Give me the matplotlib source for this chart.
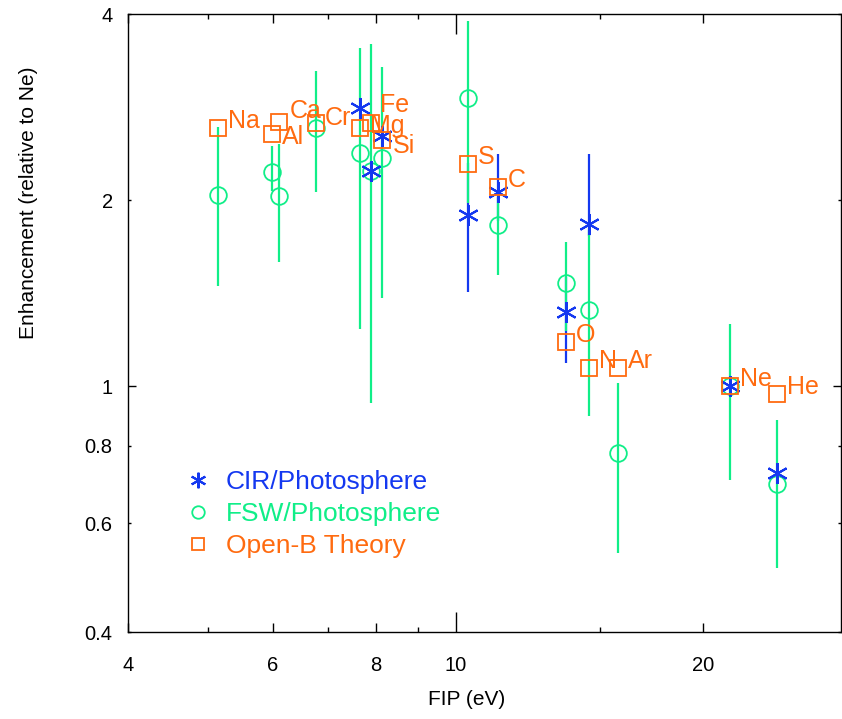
import matplotlib
matplotlib.use("Agg")
import matplotlib.pyplot as plt
import numpy as np
from matplotlib.ticker import FixedLocator, NullFormatter, NullLocator

plt.rcParams['font.family'] = ['Liberation Sans', 'DejaVu Sans']

# first ionization potentials (eV)
fip = {'Na': 5.14, 'Al': 5.99, 'Ca': 6.11, 'Cr': 6.77, 'Mg': 7.65, 'Fe': 7.90,
       'Si': 8.15, 'S': 10.36, 'C': 11.26, 'O': 13.62, 'N': 14.53, 'Ar': 15.76,
       'Ne': 21.56, 'He': 24.59}

# CIR / photosphere
cir_el = ['Mg', 'Fe', 'Si', 'S', 'C', 'O', 'N', 'Ne', 'He']
cir_val = [2.82, 2.23, 2.54, 1.89, 2.06, 1.32, 1.83, 1.0, 0.722]
cir_lo = [np.nan, np.nan, np.nan, 1.42, 1.85, 1.09, 1.75, np.nan, np.nan]
cir_hi = [np.nan, np.nan, np.nan, 2.30, 2.37, 1.50, 2.37, np.nan, np.nan]

# FSW / photosphere
fsw_el = ['Na', 'Al', 'Ca', 'Cr', 'Mg', 'Fe', 'Si', 'S', 'C', 'O', 'N', 'Ar', 'Ne', 'He']
fsw_val = [2.04, 2.22, 2.03, 2.62, 2.38, 2.23, 2.34, 2.93, 1.82, 1.47, 1.33, 0.778, 1.0, 0.695]
fsw_lo = [1.45, 2.07, 1.59, 2.06, 1.236, 0.938, 1.39, 1.98, 1.51, 1.23, 0.893, 0.537, 0.706, 0.508]
fsw_hi = [2.63, 2.45, 2.46, 3.23, 3.52, 3.58, 3.28, 3.90, 2.02, 1.71, 1.79, 1.01, 1.26, 0.88]

# Open-B theory
th_el = ['Na', 'Al', 'Ca', 'Cr', 'Mg', 'Fe', 'Si', 'S', 'C', 'O', 'N', 'Ar', 'Ne', 'He']
th_val = [2.62, 2.56, 2.67, 2.66, 2.62, 2.66, 2.50, 2.29, 2.10, 1.18, 1.07, 1.07, 1.0, 0.97]

blue = '#1438F0'
green = '#10EE88'
orange = '#FF6B10'

# label offsets in points (x, baseline y)
lab_off = {'Al': (7.2, -7.2), 'Ca': (7.2, 2.9), 'Cr': (6.5, -1.4), 'Mg': (7.2, -3.6),
           'Fe': (6.5, 8.6), 'Si': (7.2, -9.4)}

fig = plt.figure(figsize=(8.42, 7.19), dpi=100)
ax = fig.add_axes([128 / 842, 1 - 632 / 719, 713 / 842, 618 / 719])
ax.set_xscale('log')
ax.set_yscale('log')

cx = [fip[e] for e in cir_el]
fx = [fip[e] for e in fsw_el]
tx = [fip[e] for e in th_el]

ax.vlines(cx, cir_lo, cir_hi, color=blue, lw=1.6, zorder=1)
ax.vlines(fx, fsw_lo, fsw_hi, color=green, lw=1.6, zorder=2)

ax.plot(fx, fsw_val, ls='none', marker='o', ms=12, mfc='none', mec=green, mew=1.3,
        zorder=3, label='FSW/Photosphere')
ax.plot(cx, cir_val, ls='none', marker=(6, 2, 0), ms=15, mfc='none', mec=blue, mew=1.5,
        zorder=4, label='CIR/Photosphere')
ax.plot(tx, th_val, ls='none', marker='s', ms=12, mfc='none', mec=orange, mew=1.3,
        zorder=5, label='Open-B Theory')

for e, x, y in zip(th_el, tx, th_val):
    dx, dy = lab_off.get(e, (7.2, 0))
    ax.annotate(e, (x, y), xytext=(dx, dy), textcoords='offset points',
                ha='left', va='baseline', color=orange, fontsize=18, zorder=6)

ax.set_xlim(4, 29.4)
ax.set_ylim(0.4, 4)

ax.xaxis.set_major_locator(FixedLocator([4, 6, 8, 10, 20]))
ax.set_xticklabels(['4', '6', '8', '10', '20'])
ax.xaxis.set_minor_locator(FixedLocator([5, 7, 9, 15]))
ax.xaxis.set_minor_formatter(NullFormatter())
ax.yaxis.set_major_locator(FixedLocator([0.4, 0.6, 0.8, 1, 2, 4]))
ax.set_yticklabels(['0.4', '0.6', '0.8', '1', '2', '4'])
ax.yaxis.set_minor_locator(NullLocator())

ax.tick_params(which='both', direction='in', top=True, right=True, width=1.0,
               labelsize=14.5)
ax.tick_params(axis='x', which='major', length=6.5, pad=17)
ax.tick_params(axis='x', which='minor', length=3.6)
ax.tick_params(axis='y', which='major', length=2.5, pad=11)
for t in ax.xaxis.get_major_ticks():
    if t.get_loc() == 10:
        t.tick1line.set_markersize(14.4)
        t.tick2line.set_markersize(14.4)
for t in ax.yaxis.get_major_ticks():
    if t.get_loc() == 1:
        t.tick1line.set_markersize(6)
        t.tick2line.set_markersize(6)
for s in ax.spines.values():
    s.set_linewidth(1.0)

ax.set_xlabel('FIP (eV)', fontsize=15)
ax.set_ylabel('Enhancement (relative to Ne)', fontsize=15)
ax.xaxis.set_label_coords(0.475, -0.11)
ax.xaxis.label.set_va('center')
ax.yaxis.set_label_coords(-0.14, 0.694)
ax.yaxis.label.set_va('center')

h, l = ax.get_legend_handles_labels()
order = [1, 0, 2]
ax.legend([h[i] for i in order], [l[i] for i in order], loc='upper left',
          bbox_to_anchor=(0.08, 0.262), frameon=False, fontsize=19,
          handlelength=1.0, handletextpad=0.55, labelspacing=0.3, borderpad=0,
          borderaxespad=0, markerscale=0.75, labelcolor='markeredgecolor')

fig.savefig('out.png', dpi=100)
